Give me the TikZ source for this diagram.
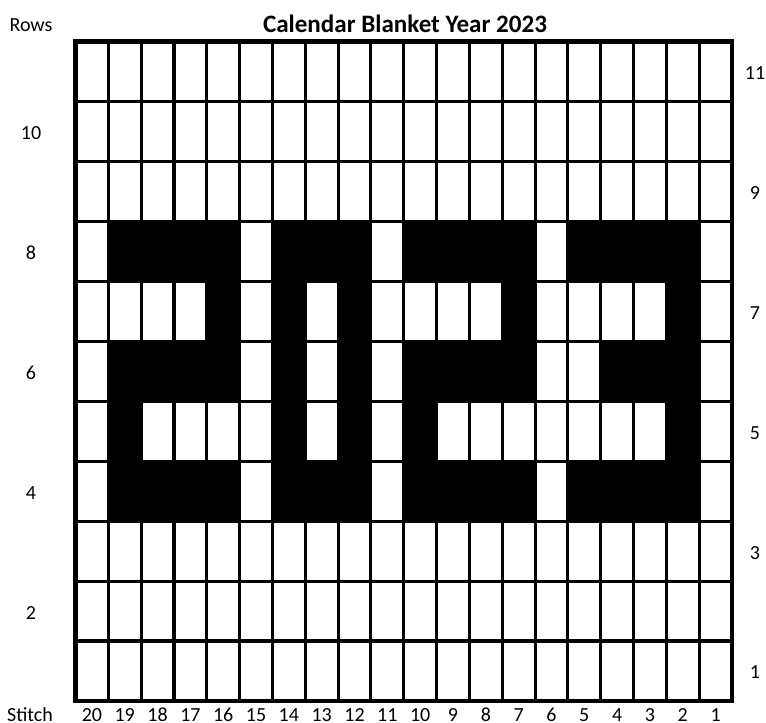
\documentclass[tikz,border=0pt]{standalone}
\usepackage{fontspec}
\setmainfont{Carlito}
\begin{document}
\begin{tikzpicture}[x=0.75pt,y=-0.75pt,
  lbl/.style={inner sep=0pt,font=\fontsize{15pt}{17pt}\selectfont},
  ttl/.style={inner sep=0pt,font=\fontsize{18.8pt}{21pt}\selectfont\bfseries},
  gridline/.style={line width=2.3pt,black},
  border/.style={line width=3.4pt,black},
  cellfill/.style={fill=black}]
\useasboundingbox (0,0) rectangle (766,723);
\def\gx{75.5}\def\gy{41.5}\def\cw{32.825}\def\rh{59.95}
% black cells
\foreach \r/\lst in {8/{2,3,4,5,7,8,9,11,12,13,14,16,17,18,19},
                     7/{5,7,9,14,19},
                     6/{2,3,4,5,7,9,11,12,13,14,17,18,19},
                     5/{2,7,9,11,19},
                     4/{2,3,4,5,7,8,9,11,12,13,14,16,17,18,19}}{
  \foreach \p in \lst {
    \fill[cellfill] ({\gx+(\p-1)*\cw},{\gy+(11-\r)*\rh}) rectangle ({\gx+\p*\cw},{\gy+(12-\r)*\rh});
  }
}
% grid lines
\foreach \i in {1,...,19}
  \draw[gridline] ({\gx+\i*\cw},\gy) -- ({\gx+\i*\cw},{\gy+11*\rh});
\foreach \j in {1,...,10}
  \draw[gridline] (\gx,{\gy+\j*\rh}) -- ({\gx+20*\cw},{\gy+\j*\rh});
\draw[border] (\gx,\gy) rectangle ({\gx+20*\cw},{\gy+11*\rh});
% texts
\node[ttl] (title) at (405,23.5) {Calendar Blanket Year 2023};
\node[lbl] (rows) at (31,25) {Rows};
\node[lbl] (stitch) at (30,715) {Stitch};
\foreach \r in {2,4,6,8,10}
  \node[lbl] (row\r) at (31,{\gy+(11.5-\r)*\rh+1.5}) {\r};
\foreach \r in {1,3,5,7,9,11}
  \node[lbl] (row\r) at (755,{\gy+(11.5-\r)*\rh+1.5}) {\r};
\foreach \p [evaluate=\p as \s using {int(21-\p)}] in {1,...,20}
  \node[lbl] (s\s) at ({\gx+(\p-0.5)*\cw},715) {\s};
\end{tikzpicture}
\end{document}
